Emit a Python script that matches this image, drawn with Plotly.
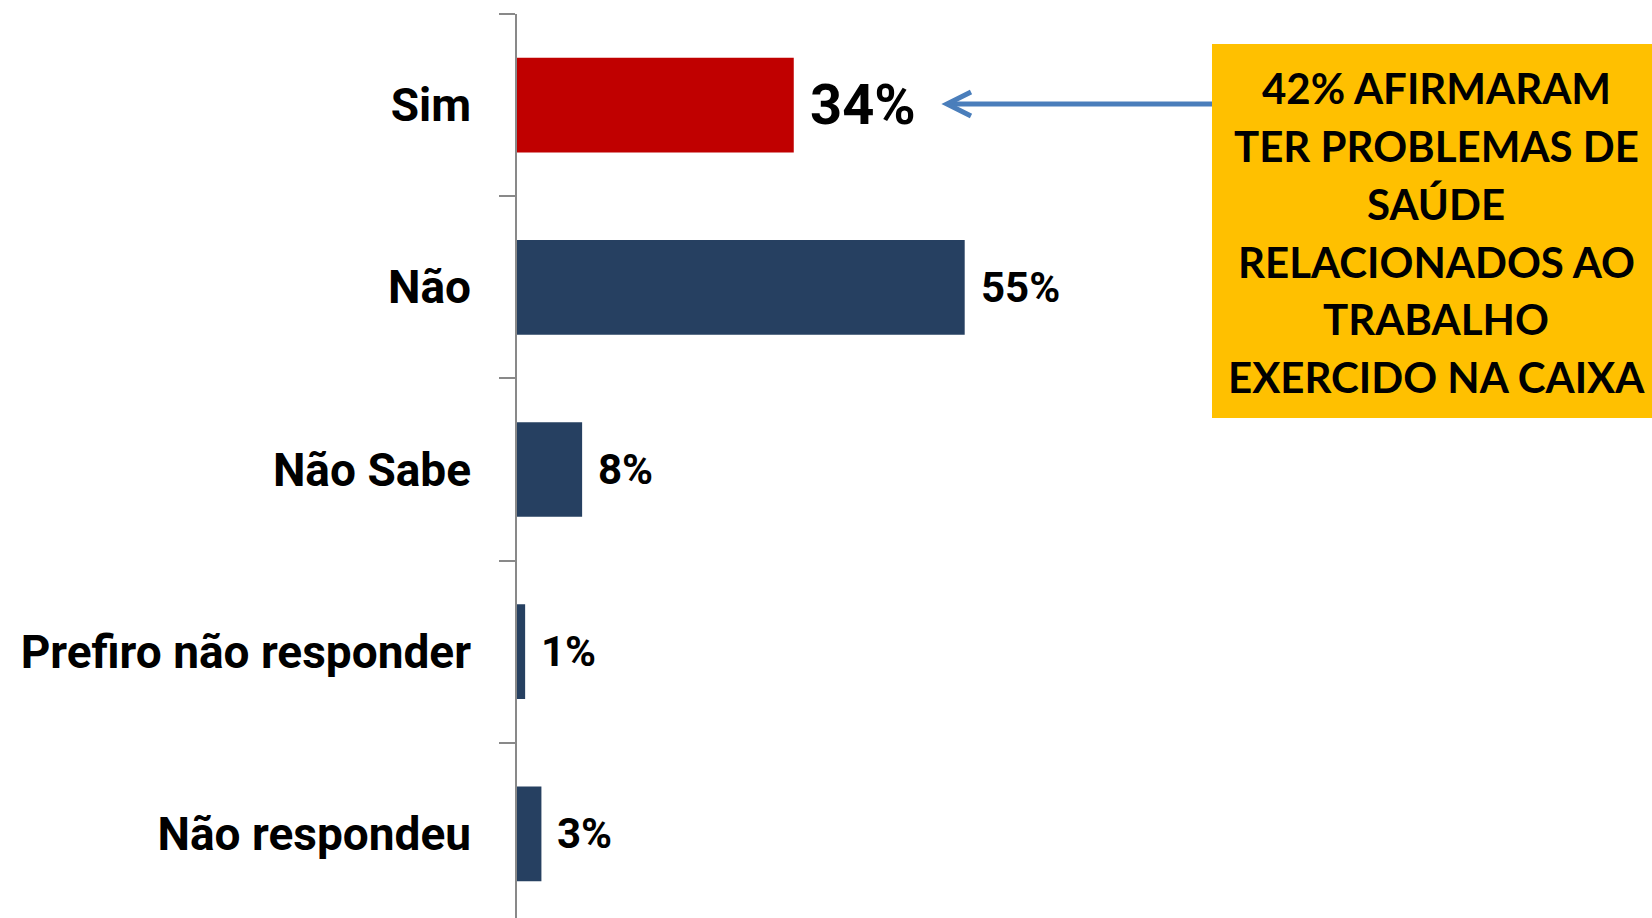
import plotly.graph_objects as go

categories = ["Sim", "Não", "Não Sabe", "Prefiro não responder", "Não respondeu"]
values = [34, 55, 8, 1, 3]
labels = ["34%", "55%", "8%", "1%", "3%"]
bar_colors = ["#C00000", "#264061", "#264061", "#264061", "#264061"]
label_sizes = [56, 42, 42, 42, 42]
box_lines = ["42% AFIRMARAM", "TER PROBLEMAS DE", "SAÚDE",
             "RELACIONADOS AO", "TRABALHO", "EXERCIDO NA CAIXA"]

W, H = 1652, 918
L, T = 517, 14
PLOT_W, PLOT_H = W - L, H - T
PX_PER_UNIT = 8.14

def px_x(px):
    return (px - L) / PLOT_W

def px_y(py):
    return (H - py) / PLOT_H

narrow = "Roboto, Liberation Sans, sans-serif"

fig = go.Figure()
fig.add_trace(go.Bar(
    x=values, y=categories, orientation="h",
    marker=dict(color=bar_colors, line=dict(width=0)),
    width=0.52, hoverinfo="skip",
))

for cat, v, lab, fs in zip(categories, values, labels, label_sizes):
    fig.add_annotation(x=v, y=cat, xref="x", yref="y", text=lab,
                       showarrow=False, xanchor="left", yanchor="middle",
                       xshift=14,
                       font=dict(family=narrow, size=fs, color="black", weight="bold"))

# yellow callout box
fig.add_shape(type="rect", xref="paper", yref="paper",
              x0=px_x(1212), x1=px_x(1660), y0=px_y(418), y1=px_y(44),
              fillcolor="#FFC000", line=dict(width=0), layer="above")
line_centers = [88, 146, 204, 262, 319, 377]
for txt, cy in zip(box_lines, line_centers):
    fig.add_annotation(x=px_x(1436), y=px_y(cy), xref="paper", yref="paper",
                       text=txt, showarrow=False, xanchor="center", yanchor="middle",
                       font=dict(family="Lato, Carlito, Open Sans, sans-serif", size=42,
                                 color="black", weight="bold"))

# arrow pointing from box to the "Sim" label
ay = px_y(104)
fig.add_shape(type="line", xref="paper", yref="paper",
              x0=px_x(1212), x1=px_x(948), y0=ay, y1=ay,
              line=dict(color="#4A7EBB", width=5))
fig.add_shape(type="path", xref="paper", yref="paper",
              path=f"M {px_x(971)},{px_y(92)} L {px_x(947)},{ay} L {px_x(971)},{px_y(116)}",
              line=dict(color="#4A7EBB", width=5))

fig.update_layout(
    width=W, height=H,
    margin=dict(l=L, r=0, t=T, b=0, pad=0, autoexpand=False),
    paper_bgcolor="white", plot_bgcolor="white",
    showlegend=False,
    xaxis=dict(visible=False, range=[0, PLOT_W / PX_PER_UNIT], fixedrange=True,
               automargin=False),
    yaxis=dict(
        type="category", categoryorder="array", categoryarray=categories,
        range=[-0.5 + PLOT_H / 182.2, -0.5], autorange=False, automargin=False,
        showline=True, linecolor="#898989", linewidth=1.5,
        ticks="outside", tickson="boundaries", ticklen=16, tickcolor="#898989",
        tickwidth=1.5, showgrid=False, zeroline=False,
        ticklabelstandoff=35,
        tickfont=dict(family=narrow, size=46, color="black", weight="bold"),
    ),
)

fig.write_html(
    "out.html",
    config={"displayModeBar": False},
    post_script="document.body.style.margin='0';document.body.style.overflow='hidden';",
)
